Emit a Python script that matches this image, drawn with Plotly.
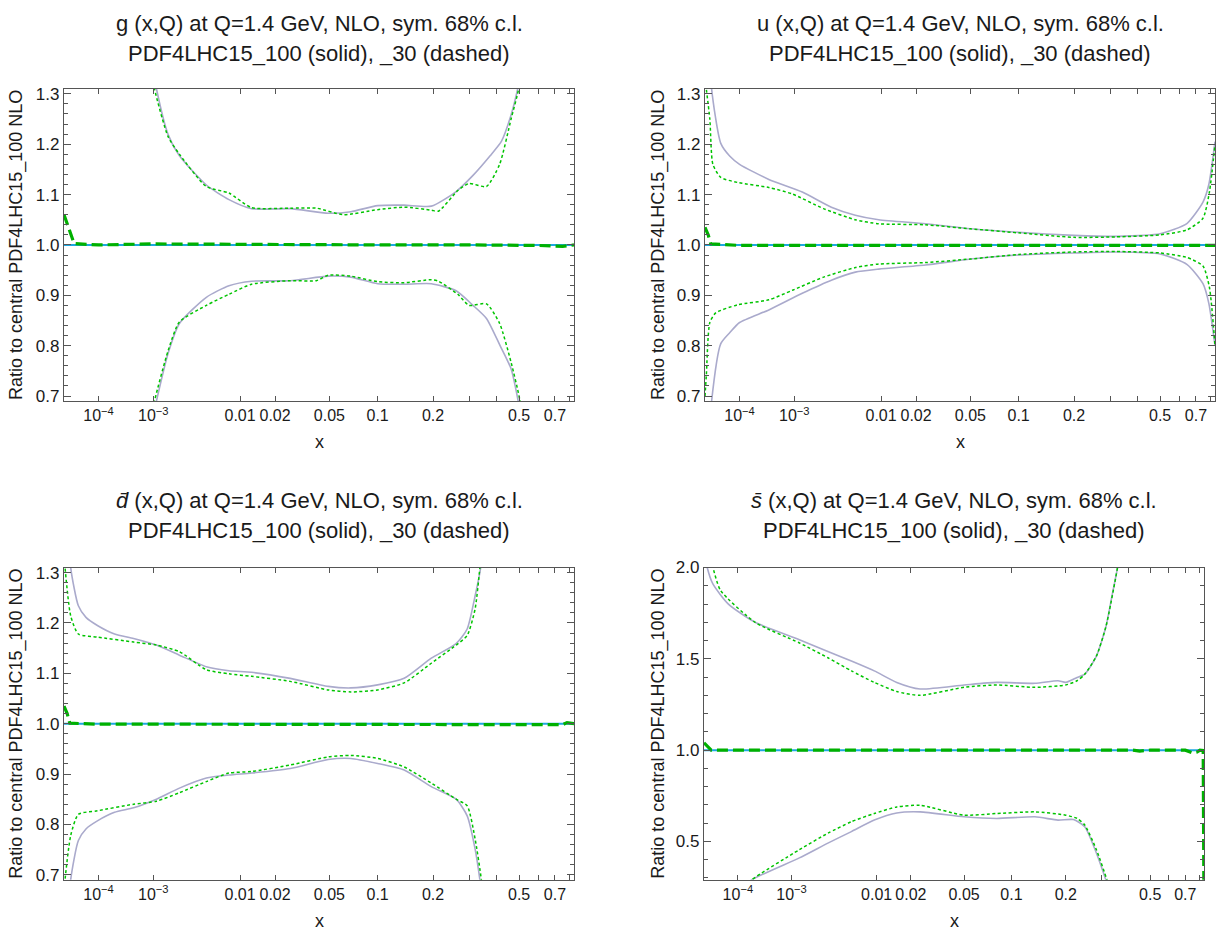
import plotly.graph_objects as go

# ---------------- data (x values, ratio values) ----------------
# gluon
g_up100_x = [8e-4, 1.11e-3, 1.61e-3, 2.25e-3, 4.61e-3, 7.85e-3, 0.0127, 0.0263, 0.0491, 0.0689, 0.1, 0.141, 0.196, 0.26, 0.3125, 0.374, 0.42, 0.462, 0.493, 0.52]
g_up100_y = [1.42, 1.31, 1.219, 1.177, 1.119, 1.09, 1.072, 1.072, 1.063, 1.066, 1.078, 1.079, 1.077, 1.106, 1.138, 1.177, 1.206, 1.258, 1.31, 1.37]
g_up30_x = [7.5e-4, 1.04e-3, 1.61e-3, 2.25e-3, 4.61e-3, 7.85e-3, 0.0127, 0.0263, 0.0408, 0.0617, 0.1, 0.141, 0.196, 0.213, 0.265, 0.2993, 0.36, 0.412, 0.462, 0.498, 0.52]
g_up30_y = [1.42, 1.31, 1.215, 1.18, 1.116, 1.103, 1.074, 1.073, 1.073, 1.06, 1.07, 1.075, 1.069, 1.067, 1.108, 1.122, 1.116, 1.16, 1.25, 1.31, 1.37]
g_lo100_x = [8e-4, 1.11e-3, 1.61e-3, 2.25e-3, 4.61e-3, 7.85e-3, 0.0127, 0.0263, 0.0491, 0.0689, 0.1, 0.141, 0.196, 0.26, 0.3125, 0.36, 0.412, 0.462, 0.493, 0.52]
g_lo100_y = [0.60, 0.69, 0.785, 0.844, 0.896, 0.919, 0.928, 0.929, 0.938, 0.936, 0.923, 0.922, 0.923, 0.909, 0.88, 0.854, 0.802, 0.754, 0.695, 0.63]
g_lo30_x = [7.5e-4, 1.04e-3, 1.61e-3, 2.25e-3, 4.61e-3, 7.85e-3, 0.0127, 0.0263, 0.0408, 0.0491, 0.0689, 0.1, 0.141, 0.196, 0.213, 0.265, 0.2993, 0.36, 0.412, 0.462, 0.502, 0.53]
g_lo30_y = [0.60, 0.69, 0.79, 0.847, 0.88, 0.902, 0.922, 0.929, 0.929, 0.94, 0.938, 0.927, 0.925, 0.931, 0.928, 0.902, 0.88, 0.883, 0.844, 0.767, 0.695, 0.62]
g_c30_x = [1e-5, 1.5e-5, 2.2e-5, 5e-5, 1e-4, 1e-3, 0.01, 0.1, 0.3, 0.6, 0.75, 0.83]
g_c30_y = [1.06, 1.03, 1.003, 1.001, 1.0, 1.002, 1.001, 1.0, 1.0, 0.999, 0.997, 1.0]

# u
u_up100_x = [1.2e-5, 1.7e-5, 3.27e-5, 5.8e-5, 1e-4, 3.9e-4, 1.3e-3, 3.05e-3, 5.6e-3, 9.5e-3, 0.0237, 0.05, 0.1, 0.2, 0.32, 0.5, 0.646, 0.746, 0.786, 0.83]
u_up100_y = [1.50, 1.31, 1.2016, 1.176, 1.16, 1.13, 1.105, 1.075, 1.059, 1.05, 1.042, 1.032, 1.025, 1.019, 1.017, 1.022, 1.043, 1.085, 1.12, 1.205]
u_up30_x = [1e-5, 1.48e-5, 1.87e-5, 3.27e-5, 9e-5, 3.9e-4, 9.4e-4, 2.46e-3, 5.6e-3, 9.5e-3, 0.0237, 0.05, 0.1, 0.2, 0.32, 0.5, 0.646, 0.746, 0.79, 0.83]
u_up30_y = [1.33, 1.25, 1.16, 1.134, 1.124, 1.114, 1.101, 1.072, 1.05, 1.042, 1.04, 1.032, 1.024, 1.015, 1.016, 1.02, 1.03, 1.053, 1.105, 1.2]
u_lo100_x = [1.2e-5, 1.7e-5, 3.27e-5, 5.8e-5, 1e-4, 3.9e-4, 1.3e-3, 3.05e-3, 5.6e-3, 9.5e-3, 0.0237, 0.05, 0.1, 0.2, 0.32, 0.5, 0.646, 0.746, 0.786, 0.83]
u_lo100_y = [0.55, 0.69, 0.804, 0.826, 0.846, 0.871, 0.904, 0.93, 0.946, 0.952, 0.96, 0.972, 0.98, 0.984, 0.986, 0.982, 0.961, 0.923, 0.884, 0.80]
u_lo30_x = [1e-5, 1.12e-5, 1.48e-5, 2.3e-5, 9e-5, 3.9e-4, 9.4e-4, 2.46e-3, 5.6e-3, 9.5e-3, 0.0237, 0.05, 0.1, 0.2, 0.32, 0.5, 0.646, 0.746, 0.79, 0.83]
u_lo30_y = [0.70, 0.742, 0.846, 0.865, 0.881, 0.891, 0.91, 0.936, 0.955, 0.962, 0.965, 0.972, 0.981, 0.986, 0.987, 0.984, 0.975, 0.958, 0.916, 0.80]
u_c30_x = [1e-5, 1.3e-5, 1.6e-5, 1e-4, 1e-3, 0.01, 0.1, 0.5, 0.83]
u_c30_y = [1.035, 1.02, 1.002, 0.999, 0.999, 0.999, 0.999, 0.999, 0.999]

# d-bar
d_up100_x = [1.3e-5, 1.71e-5, 2.97e-5, 4.86e-5, 9.4e-5, 2.2e-4, 4.9e-4, 1.11e-3, 2.25e-3, 4.61e-3, 7.85e-3, 0.0127, 0.0263, 0.0491, 0.0689, 0.1, 0.141, 0.196, 0.26, 0.2935, 0.3193, 0.339, 0.36]
d_up100_y = [1.45, 1.31, 1.234, 1.211, 1.195, 1.178, 1.169, 1.156, 1.136, 1.113, 1.105, 1.102, 1.09, 1.074, 1.071, 1.077, 1.09, 1.13, 1.159, 1.188, 1.253, 1.31, 1.42]
d_up30_x = [1e-5, 1.09e-5, 1.71e-5, 2.97e-5, 9.4e-5, 4.9e-4, 1.11e-3, 2.25e-3, 4.61e-3, 7.85e-3, 0.0127, 0.0263, 0.0491, 0.0689, 0.1, 0.141, 0.196, 0.26, 0.2935, 0.3193, 0.3362, 0.36]
d_up30_y = [1.34, 1.31, 1.214, 1.178, 1.172, 1.162, 1.156, 1.143, 1.107, 1.099, 1.094, 1.084, 1.067, 1.063, 1.067, 1.081, 1.12, 1.156, 1.175, 1.227, 1.31, 1.45]
d_lo100_x = [1.3e-5, 1.71e-5, 2.97e-5, 4.86e-5, 9.4e-5, 2.2e-4, 4.9e-4, 1.11e-3, 2.25e-3, 4.61e-3, 7.85e-3, 0.0127, 0.0263, 0.0491, 0.0689, 0.1, 0.141, 0.196, 0.26, 0.2935, 0.3193, 0.3362, 0.36]
d_lo100_y = [0.55, 0.69, 0.768, 0.791, 0.807, 0.824, 0.833, 0.85, 0.872, 0.892, 0.898, 0.902, 0.911, 0.929, 0.931, 0.921, 0.908, 0.875, 0.85, 0.817, 0.752, 0.69, 0.58]
d_lo30_x = [1e-5, 1.09e-5, 1.71e-5, 2.97e-5, 9.4e-5, 4.9e-4, 1.11e-3, 2.25e-3, 4.61e-3, 7.85e-3, 0.0127, 0.0263, 0.0491, 0.0689, 0.1, 0.141, 0.196, 0.26, 0.2935, 0.3193, 0.3414, 0.36]
d_lo30_y = [0.66, 0.69, 0.778, 0.82, 0.827, 0.84, 0.846, 0.863, 0.885, 0.902, 0.905, 0.918, 0.934, 0.937, 0.931, 0.914, 0.882, 0.85, 0.837, 0.772, 0.69, 0.58]
d_c30_x = [1e-5, 1.3e-5, 1.6e-5, 1e-4, 1e-3, 0.01, 0.1, 0.5, 0.6, 0.75, 0.78, 0.83]
d_c30_y = [1.035, 1.02, 1.001, 0.999, 0.999, 0.999, 0.999, 0.998, 0.998, 0.998, 1.002, 1.0]

# s-bar
s_up100_x = [1e-5, 1.31e-5, 2.04e-5, 5.8e-5, 2.37e-4, 1.3e-3, 3.05e-3, 5.6e-3, 9.5e-3, 0.0152, 0.0237, 0.05, 0.0814, 0.1365, 0.182, 0.2, 0.2283, 0.2494, 0.2843, 0.3158, 0.3362, 0.3576, 0.38]
s_up100_y = [2.1, 2.0, 1.91, 1.80, 1.70, 1.605, 1.54, 1.488, 1.434, 1.371, 1.335, 1.357, 1.371, 1.366, 1.38, 1.371, 1.398, 1.416, 1.515, 1.677, 1.838, 2.0, 2.2]
s_up30_x = [1.31e-5, 2.04e-5, 3.53e-5, 2.37e-4, 1.3e-3, 3.05e-3, 5.6e-3, 9.5e-3, 0.0152, 0.0237, 0.05, 0.0814, 0.1365, 0.2, 0.2283, 0.2494, 0.2843, 0.3158, 0.3576, 0.38]
s_up30_y = [2.1, 2.0, 1.874, 1.70, 1.587, 1.506, 1.434, 1.371, 1.321, 1.30, 1.344, 1.357, 1.344, 1.357, 1.38, 1.416, 1.515, 1.677, 2.0, 2.2]
s_lo100_x = [1.5e-4, 1.98e-4, 1.3e-3, 3.05e-3, 5.6e-3, 9.5e-3, 0.0152, 0.0237, 0.05, 0.0814, 0.1365, 0.182, 0.2187, 0.2494, 0.2843, 0.3158, 0.33]
s_lo100_y = [0.25, 0.288, 0.41, 0.491, 0.554, 0.617, 0.656, 0.662, 0.635, 0.626, 0.635, 0.617, 0.62, 0.581, 0.437, 0.288, 0.22]
s_lo30_x = [1.5e-4, 1.98e-4, 1.3e-3, 3.05e-3, 5.6e-3, 9.5e-3, 0.0152, 0.0237, 0.05, 0.0814, 0.1365, 0.2, 0.2283, 0.2494, 0.2843, 0.3198, 0.335]
s_lo30_y = [0.25, 0.288, 0.455, 0.545, 0.608, 0.653, 0.689, 0.698, 0.644, 0.653, 0.662, 0.644, 0.626, 0.59, 0.455, 0.288, 0.22]
s_c30_x = [1e-5, 1.3e-5, 1.8e-5, 1e-4, 0.01, 0.1, 0.42, 0.45, 0.5, 0.7, 0.75, 0.78, 0.8, 0.824, 0.827, 0.83]
s_c30_y = [1.04, 1.02, 1.0, 1.0, 1.0, 1.0, 1.0, 0.995, 1.0, 1.0, 0.985, 0.99, 1.0, 0.998, 0.1, 0.1]

central_x = [1e-5, 0.83]
central_y = [1.0, 1.0]

x_tick_vals = [1e-4, 1e-3, 0.01, 0.02, 0.05, 0.1, 0.2, 0.5, 0.7]
x_tick_text = ["10<sup>\u22124</sup>", "10<sup>\u22123</sup>", "0.01", "0.02", "0.05", "0.1", "0.2", "0.5", "0.7"]
x_minor_vals = [0.3, 0.4, 0.6, 0.8]
x_min, x_max = 1e-5, 0.83
POW = 0.2  # horizontal axis is scaled as x^0.2

titles = [
    "g (x,Q) at Q=1.4 GeV, NLO, sym. 68% c.l.",
    "u (x,Q) at Q=1.4 GeV, NLO, sym. 68% c.l.",
    "<i>d\u0304</i> (x,Q) at Q=1.4 GeV, NLO, sym. 68% c.l.",
    "<i>s\u0304</i> (x,Q) at Q=1.4 GeV, NLO, sym. 68% c.l.",
]
subtitle = "PDF4LHC15_100 (solid), _30 (dashed)"
y_title = "Ratio to central PDF4LHC15_100 NLO"

panels = [
    dict(up100=(g_up100_x, g_up100_y), up30=(g_up30_x, g_up30_y), lo100=(g_lo100_x, g_lo100_y), lo30=(g_lo30_x, g_lo30_y), c30=(g_c30_x, g_c30_y)),
    dict(up100=(u_up100_x, u_up100_y), up30=(u_up30_x, u_up30_y), lo100=(u_lo100_x, u_lo100_y), lo30=(u_lo30_x, u_lo30_y), c30=(u_c30_x, u_c30_y)),
    dict(up100=(d_up100_x, d_up100_y), up30=(d_up30_x, d_up30_y), lo100=(d_lo100_x, d_lo100_y), lo30=(d_lo30_x, d_lo30_y), c30=(d_c30_x, d_c30_y)),
    dict(up100=(s_up100_x, s_up100_y), up30=(s_up30_x, s_up30_y), lo100=(s_lo100_x, s_lo100_y), lo30=(s_lo30_x, s_lo30_y), c30=(s_c30_x, s_c30_y)),
]

# ---------------- layout geometry (pixels) ----------------
W, H = 1228, 938
px_x = [(64, 574), (705, 1215), (64, 574), (704, 1204)]
px_y = [(81, 398), (81, 398), (567, 884), (567, 884)]
y_ranges = [(0.69, 1.31), (0.69, 1.31), (0.69, 1.31), (0.29, 2.0)]
y_dticks = [(0.1, 0.02), (0.1, 0.02), (0.1, 0.02), (0.5, 0.1)]

FONT = "Liberation Sans, Arial, sans-serif"
C_SOLID = "#aaaacc"
C_DASH = "#00c400"
C_BLUE = "#1ea7e1"
C_CENT = "#00b000"
AX = "#555555"
TXT = "#1a1a1a"


def tr(xs):
    return [v ** POW for v in xs]


fig = go.Figure()
for i, p in enumerate(panels):
    xa = "x" if i == 0 else f"x{i+1}"
    ya = "y" if i == 0 else f"y{i+1}"
    for key in ("up100", "lo100"):
        xs, ys = p[key]
        fig.add_trace(go.Scatter(x=tr(xs), y=ys, mode="lines", xaxis=xa, yaxis=ya,
                                 line=dict(color=C_SOLID, width=1.6, shape="spline", smoothing=0.6),
                                 showlegend=False, hoverinfo="skip"))
    for key in ("up30", "lo30"):
        xs, ys = p[key]
        fig.add_trace(go.Scatter(x=tr(xs), y=ys, mode="lines", xaxis=xa, yaxis=ya,
                                 line=dict(color=C_DASH, width=1.5, dash="3px,2.5px", shape="spline", smoothing=0.6),
                                 showlegend=False, hoverinfo="skip"))
    fig.add_trace(go.Scatter(x=tr(central_x), y=central_y, mode="lines", xaxis=xa, yaxis=ya,
                             line=dict(color=C_BLUE, width=2), showlegend=False, hoverinfo="skip"))
    xs, ys = p["c30"]
    fig.add_trace(go.Scatter(x=tr(xs), y=ys, mode="lines", xaxis=xa, yaxis=ya,
                             line=dict(color=C_CENT, width=3.2, dash="11px,5px"), showlegend=False, hoverinfo="skip"))

layout = dict(width=W, height=H, margin=dict(l=0, r=0, t=0, b=0),
              paper_bgcolor="white", plot_bgcolor="white",
              font=dict(family=FONT, size=17, color=TXT), showlegend=False)

annotations = []
for i in range(4):
    xk = "xaxis" if i == 0 else f"xaxis{i+1}"
    yk = "yaxis" if i == 0 else f"yaxis{i+1}"
    x0, x1 = px_x[i]
    y0, y1 = px_y[i]
    layout[xk] = dict(
        domain=[x0 / W, x1 / W], anchor="y" if i == 0 else f"y{i+1}",
        range=[x_min ** POW, x_max ** POW], tickmode="array",
        tickvals=tr(x_tick_vals), ticktext=x_tick_text, tickangle=0,
        ticks="inside", ticklen=5, tickwidth=1, tickcolor=AX,
        minor=dict(tickmode="array", tickvals=tr(x_minor_vals), ticks="inside", ticklen=5,
                   tickwidth=1, tickcolor=AX, showgrid=False),
        showline=True, linecolor=AX, linewidth=1.2, mirror="ticks",
        showgrid=False, zeroline=False, tickfont=dict(size=16, color=TXT),
    )
    major, minor = y_dticks[i]
    layout[yk] = dict(
        domain=[1 - y1 / H, 1 - y0 / H], anchor="x" if i == 0 else f"x{i+1}",
        range=list(y_ranges[i]), tick0=0, dtick=major, tickformat=".1f",
        ticks="inside", ticklen=7, tickwidth=1, tickcolor=AX,
        minor=dict(dtick=minor, tick0=0, ticks="inside", ticklen=4, tickcolor=AX, tickwidth=1),
        showline=True, linecolor=AX, linewidth=1.2, mirror="ticks",
        showgrid=False, zeroline=False, tickfont=dict(size=17, color=TXT),
    )
    cx = (x0 + x1) / 2 / W
    ty1 = 15 if i < 2 else 499
    annotations.append(dict(text=titles[i], x=cx, y=1 - ty1 / H, xref="paper", yref="paper",
                            showarrow=False, xanchor="center", yanchor="middle",
                            font=dict(size=22, color=TXT, family=FONT)))
    annotations.append(dict(text=subtitle, x=cx, y=1 - (ty1 + 30) / H, xref="paper", yref="paper",
                            showarrow=False, xanchor="center", yanchor="middle",
                            font=dict(size=22, color=TXT, family=FONT)))
    annotations.append(dict(text="x", x=cx, y=1 - (y1 + 42) / H, xref="paper", yref="paper",
                            showarrow=False, xanchor="center", yanchor="middle",
                            font=dict(size=18, color=TXT, family=FONT)))
    ytx = 17 if i % 2 == 0 else 659
    annotations.append(dict(text=y_title, x=ytx / W, y=1 - (y0 + y1) / 2 / H, xref="paper", yref="paper",
                            showarrow=False, xanchor="center", yanchor="middle", textangle=-90,
                            font=dict(size=18, color=TXT, family=FONT)))
layout["annotations"] = annotations
fig.update_layout(**layout)
fig.write_html("out.html")
